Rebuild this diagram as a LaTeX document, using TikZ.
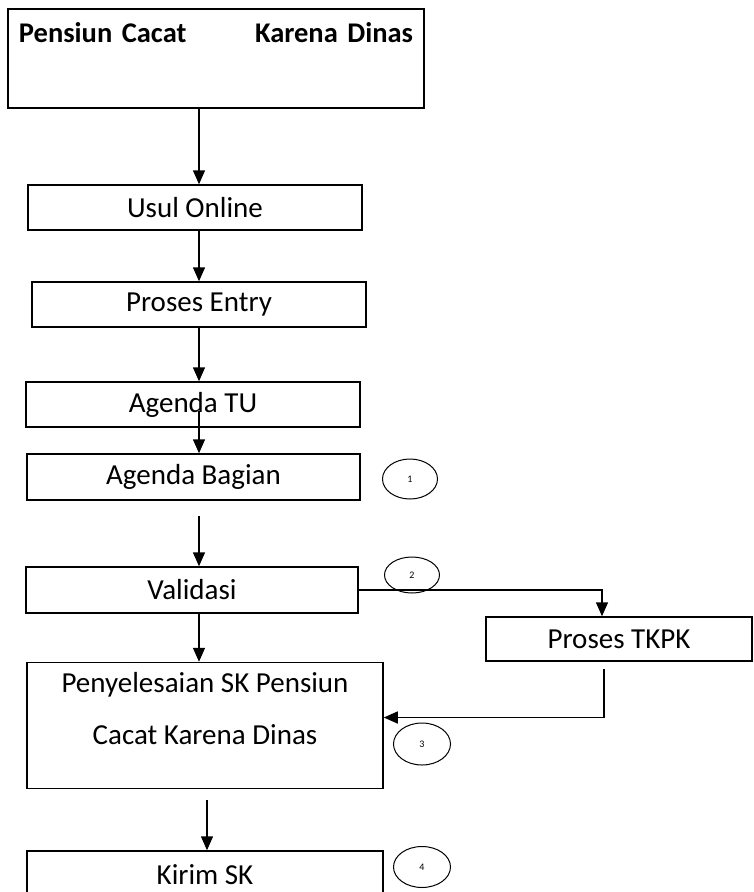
\documentclass[tikz,border=0pt]{standalone}
\usepackage{fontspec}
\setmainfont{Carlito}
\usetikzlibrary{positioning, arrows.meta, shapes.geometric}

\begin{document}
\begin{tikzpicture}[x=1pt,y=-1pt,->,>={Triangle[length=14pt,width=12pt]},line width=1.5pt,
	box/.style={rectangle, draw, line width=1.5pt, minimum height=45pt, inner sep=0pt, font=\fontsize{29}{35}\selectfont},
	nomor/.style={ellipse, draw, line width=1pt, minimum width=55pt, minimum height=40pt, inner sep=0pt, font=\fontsize{10}{11}\selectfont}]
		\useasboundingbox (0,0) rectangle (754,892);
		\coordinate (AX) at (199,0);
		\coordinate (AX2) at (207,0);

		\node[box, minimum width=416pt, minimum height=99pt		] (TITLE) 		at (216,58.5)	{};
		\node[font=\fontsize{28.5}{33}\selectfont\bfseries, text width=394pt, anchor=north, inner sep=0pt] (TITLE_TXT) at ([yshift=-13pt]TITLE.north) {Pensiun Cacat\hfill Karena Dinas};
		\node[box, minimum width=334pt							] (USUL) 		at (195,207.5)	{Usul Online};
		\node[box, minimum width=334pt							] (ENTRY) 		at (199,304.5)	{Proses Entry};
		\node[box, minimum width=334pt							] (AGENDA_TU) 	at (193,404.5)	{Agenda TU};
		\node[box, minimum width=333pt, minimum height=46pt		] (BAGIAN) 		at (193.5,477)	{Agenda Bagian};
		\node[box, minimum width=332pt, minimum height=46pt		] (VALIDASI) 	at (192,590)	{Validasi};
		\node[box, minimum width=266pt, minimum height=44pt		] (TKPK) 		at (619,639)	{Proses TKPK};
		\node[box, minimum width=356pt, minimum height=126pt	] (PENY) 		at (205,725.5)	{};
		\node[align=center, inner sep=0pt, font=\fontsize{29}{35}\selectfont] (PENY_TXT) at (205,709) {Penyelesaian SK Pensiun\\[17pt]Cacat Karena Dinas};
		\node[box, minimum width=356pt, minimum height=48pt		] (KIRIM) 		at (205,875)	{Kirim SK};

		\node[nomor												] (N1) 			at (410,479)	{1};
		\node[nomor, minimum height=36pt						] (N2) 			at (412,575)	{2};
		\node[nomor, minimum width=57pt, minimum height=42pt	] (N3) 			at (422,744)	{3};
		\node[nomor, minimum width=57pt, minimum height=41pt	] (N4) 			at (422,867)	{4};

		\draw[-]	(TITLE.south -| AX)						edge[->]	(USUL.north -| AX)
					(USUL.south -| AX)						edge[->]	(ENTRY.north -| AX)
					(ENTRY.south -| AX)						edge[->]	(AGENDA_TU.north -| AX)
					([yshift=-6pt]AGENDA_TU.center -| AX)	edge[->]	(BAGIAN.north -| AX)
					([yshift=-15pt]BAGIAN.south -| AX)		edge[->]	(VALIDASI.north -| AX)
					(VALIDASI.south -| AX)					edge[->]	(PENY.north -| AX)
					([yshift=-11pt]PENY.south -| AX2)		edge[->]	(KIRIM.north -| AX2)
					;
		\draw	(VALIDASI.east) -| ([xshift=-17pt]TKPK.north);
		\draw	([xshift=-15pt,yshift=-7pt]TKPK.south) |- ([yshift=8pt]PENY.east);

	\end{tikzpicture}
\end{document}
